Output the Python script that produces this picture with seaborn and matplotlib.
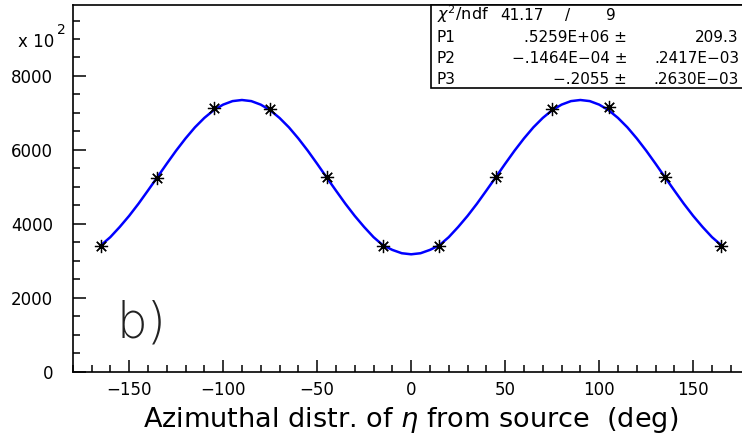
import numpy as np
import matplotlib
matplotlib.use("Agg")
import matplotlib.pyplot as plt
from matplotlib.ticker import MultipleLocator, FixedLocator
from matplotlib.patches import Rectangle
import seaborn as sns

# ---- data ----
point_x = [-165, -135, -105, -75, -45, -15, 15, 45, 75, 105, 135, 165]
point_y = [3390, 5240, 7125, 7100, 5260, 3390, 3395, 5260, 7110, 7150, 5260, 3390]

curve_x = list(range(-165, 166, 5))
curve_y = [3420, 3640, 3915, 4215, 4545, 4900, 5260, 5625, 5980, 6310, 6610, 6865, 7075, 7225, 7320, 7350,
           7320, 7225, 7075, 6865, 6610, 6310, 5980, 5625, 5260, 4900, 4545, 4215, 3915, 3640, 3420,
           3295, 3205, 3176, 3205, 3295,
           3420, 3640, 3915, 4215, 4545, 4900, 5260, 5625, 5980, 6310, 6610, 6865, 7075, 7225, 7320, 7350,
           7320, 7225, 7075, 6865, 6610, 6310, 5980, 5625, 5260, 4900, 4545, 4215, 3915, 3640, 3420]

x_major = [-150, -100, -50, 0, 50, 100, 150]
x_labels = ["\u2212150", "\u2212100", "\u221250", "0", "50", "100", "150"]
y_major = [0, 2000, 4000, 6000, 8000]
y_labels = ["0", "2000", "4000", "6000", "8000"]

stats_names = ["P1", "P2", "P3"]
stats_vals = [".5259E+06 \u00b1", "\u2212.1464E\u221204 \u00b1", "\u2212.2055 \u00b1"]
stats_errs = ["209.3", ".2417E\u221203", ".2630E\u221203"]
chi2_val = "41.17"
ndf_val = "9"

# ---- style ----
sns.set_style("ticks")
plt.rcParams["font.family"] = ["DejaVu Sans"]
plt.rcParams["text.color"] = "black"
plt.rcParams["axes.labelcolor"] = "black"
plt.rcParams["mathtext.fontset"] = "custom"
plt.rcParams["mathtext.rm"] = "DejaVu Sans"
plt.rcParams["mathtext.it"] = "DejaVu Sans:italic"

W, H = 742, 440
fig = plt.figure(figsize=(W / 100, H / 100), dpi=100)

def fx(px):
    return px / W

def fy(py):
    return 1 - py / H

ax_left, ax_right, ax_top, ax_bottom = 72.7, 749.6, 5.0, 371.7
ax = fig.add_axes([fx(ax_left), fy(ax_bottom), fx(ax_right - ax_left), (ax_bottom - ax_top) / H])

sns.lineplot(x=curve_x, y=curve_y, ax=ax, color="#0000ff", lw=1.8, sort=False)
sns.lineplot(x=point_x, y=point_y, ax=ax, marker=(8, 2, 0), linestyle="", color="black",
             markersize=9.5, markeredgewidth=0.9, markeredgecolor="black", sort=False)

ax.set_xlim(-180, 180)
ax.set_ylim(0, 9920)

ax.xaxis.set_major_locator(FixedLocator(x_major))
ax.set_xticklabels(x_labels)
ax.xaxis.set_minor_locator(MultipleLocator(10))
ax.yaxis.set_major_locator(FixedLocator(y_major))
ax.set_yticklabels(y_labels)
ax.yaxis.set_minor_locator(MultipleLocator(500))

ax.tick_params(axis="both", which="both", direction="in", colors="black", width=1.1,
               top=False, right=False)
ax.tick_params(axis="both", which="major", length=9, labelsize=12)
ax.tick_params(axis="both", which="minor", length=4.8)
ax.tick_params(axis="x", which="major", pad=7)
ax.tick_params(axis="y", which="major", pad=14)

for s in ax.spines.values():
    s.set_visible(True)
    s.set_linewidth(1.2)
    s.set_color("black")

ax.set_xlabel("")
ax.set_ylabel("")

# exponent label
fig.text(fx(18), fy(47), "x 10", fontsize=12, ha="left", va="baseline")
fig.text(fx(57), fy(34), "2", fontsize=10, ha="left", va="baseline")

# x axis title
fig.text(fx(411), fy(427), r"Azimuthal distr. of $\eta$ from source  (deg)", fontsize=19.5,
         ha="center", va="baseline")

# panel label
fig.text(fx(116), fy(337), "b)", fontsize=35, fontweight="light", ha="left", va="baseline",
         color="#222222")

# stats box
box = Rectangle((fx(431), fy(88)), fx(760 - 431), (88 - 5) / H, transform=fig.transFigure,
                facecolor="white", edgecolor="black", lw=1.2, zorder=5)
fig.patches.append(box)

row_base = [20, 42, 63, 84]
fs = 11
fig.text(fx(437), fy(row_base[0]), r"$\chi^2$/ndf", fontsize=fs + 0.5, ha="left", va="baseline", zorder=6)
fig.text(fx(500), fy(row_base[0]), chi2_val, fontsize=fs, ha="left", va="baseline", zorder=6)
fig.text(fx(565), fy(row_base[0]), "/", fontsize=fs, ha="left", va="baseline", zorder=6)
fig.text(fx(606), fy(row_base[0]), ndf_val, fontsize=fs, ha="left", va="baseline", zorder=6)
for i in range(3):
    b = row_base[i + 1]
    fig.text(fx(437), fy(b), stats_names[i], fontsize=fs, ha="left", va="baseline", zorder=6)
    fig.text(fx(627), fy(b), stats_vals[i], fontsize=fs, ha="right", va="baseline", zorder=6)
    fig.text(fx(739), fy(b), stats_errs[i], fontsize=fs, ha="right", va="baseline", zorder=6)

fig.savefig("out.png", dpi=100)
